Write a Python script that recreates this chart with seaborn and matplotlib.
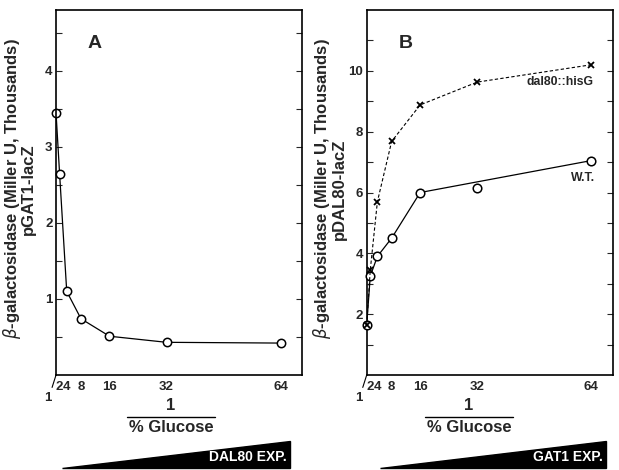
import numpy as np
import pandas as pd
import seaborn as sns
import matplotlib.pyplot as plt
from matplotlib.patches import Polygon

# 数据
inv_glucose = [1, 2, 4, 8, 16, 32, 64]
gat1_lacz = [3.45, 2.65, 1.10, 0.74, 0.51, 0.43, 0.42]
dal80_hisg = [1.65, 3.45, 5.70, 7.68, 8.88, 9.63, 10.20]
wt_dal80 = [1.65, 3.25, 3.90, 4.50, 6.00, 6.15, 7.05]
# W.T. 线不经过 32 这一点
wt_line_x = [1, 2, 4, 8, 16, 64]
wt_line_y = [1.65, 3.25, 3.90, 4.50, 6.00, 7.05]
x_ticks = [2, 4, 8, 16, 32, 64]

sns.set_style('white')
plt.rcParams['font.family'] = ['Liberation Sans', 'DejaVu Sans']
plt.rcParams['mathtext.fontset'] = 'dejavusans'

df_a = pd.DataFrame({'x': inv_glucose, 'y': gat1_lacz})
df_b = pd.DataFrame({'x': inv_glucose, 'dal80': dal80_hisg, 'wt': wt_dal80})
df_wt = pd.DataFrame({'x': wt_line_x, 'y': wt_line_y})

fig = plt.figure(figsize=(6.19, 4.70), dpi=100)
ax_a = fig.add_axes([0.0905, 0.2021, 0.3974, 0.7766])
ax_b = fig.add_axes([0.5924, 0.2021, 0.3974, 0.7766])

circ = dict(marker='o', markersize=6, markerfacecolor='white', markeredgecolor='black', markeredgewidth=1.1)

sns.lineplot(x='x', y='y', data=df_a, ax=ax_a, color='black', lw=0.9, clip_on=False, **circ)

sns.lineplot(x='x', y='y', data=df_wt, ax=ax_b, color='black', lw=0.9)
sns.scatterplot(x='x', y='wt', data=df_b, ax=ax_b, marker='o', s=38, facecolor='white',
                edgecolor='black', linewidth=1.1, zorder=5, clip_on=False)
sns.lineplot(x='x', y='dal80', data=df_b, ax=ax_b, color='black', lw=0.8, linestyle=(0, (3, 2)),
             marker='x', markersize=5, markeredgewidth=1.3, markeredgecolor='black',
             clip_on=False, zorder=6)

ylabels = ['pGAT1-lacZ', 'pDAL80-lacZ']
for ax, ylim, major, minor, name, lab in [
        (ax_a, (0, 4.8), [1, 2, 3, 4], np.arange(0.5, 4.8, 1.0), 'A', ylabels[0]),
        (ax_b, (0, 12), [2, 4, 6, 8, 10], np.arange(1, 12, 2), 'B', ylabels[1])]:
    ax.set_xlim(1, 70)
    ax.set_ylim(*ylim)
    ax.set_xticks(x_ticks)
    ax.set_xticklabels([str(t) for t in x_ticks], fontsize=9.5, fontweight='bold')
    ax.set_yticks(major)
    ax.set_yticks(minor, minor=True)
    ax.set_yticklabels([str(t) for t in major], fontsize=9.5, fontweight='bold')
    ax.tick_params(axis='x', direction='out', length=3.5, width=0.8, pad=1)
    ax.tick_params(axis='y', which='both', direction='in', left=True, right=True, length=4, width=0.8, pad=2.5)
    for s in ax.spines.values():
        s.set_linewidth(1.2)
        s.set_color('black')
    ax.set_xlabel('')
    ax.set_ylabel(r'$\beta$-galactosidase (Miller U, Thousands)' + '\n' + lab,
                  fontsize=12, fontweight='bold', linespacing=0.9)
    ax.yaxis.set_label_coords(-0.08, 0.51)
    ax.text(0.13, 0.895, name, transform=ax.transAxes, fontsize=14, fontweight='bold')
    # 轴下方的 "1" 和断口
    ax.text(-0.033, -0.062, '1', transform=ax.transAxes, fontsize=9.5, fontweight='bold', ha='center', va='center')
    ax.add_line(plt.Line2D([0.0, -0.016], [0.0, -0.034], transform=ax.transAxes, color='black',
                           lw=0.8, clip_on=False))

ax_b.text(64.6, 9.62, 'dal80::hisG', fontsize=8.8, fontweight='bold', ha='right', va='center')
ax_b.text(65.1, 6.49, 'W.T.', fontsize=8.8, fontweight='bold', ha='right', va='center')

# 下方的 1 / % Glucose 和三角形
for cx, x0, x1, txt in [(171, 62, 290, 'DAL80 EXP.'), (469, 380, 606, 'GAT1 EXP.')]:
    fig.text(cx / 619, 1 - 405 / 470, '1', fontsize=12, fontweight='bold', ha='center', va='center')
    fig.add_artist(plt.Line2D([(cx - 44) / 619, (cx + 44) / 619], [1 - 417 / 470] * 2,
                              color='black', lw=1.0))
    fig.text(cx / 619, 1 - 428 / 470, '% Glucose', fontsize=12, fontweight='bold', ha='center', va='center')
    tri = Polygon([(x0 / 619, 1 - 468 / 470), (x1 / 619, 1 - 468 / 470), (x1 / 619, 1 - 441 / 470)],
                  closed=True, transform=fig.transFigure, color='black')
    fig.add_artist(tri)
    fig.text((x1 - 3) / 619, 1 - 457 / 470, txt, fontsize=10, fontweight='bold', color='white',
             ha='right', va='center')

plt.savefig('out.png', dpi=100)
